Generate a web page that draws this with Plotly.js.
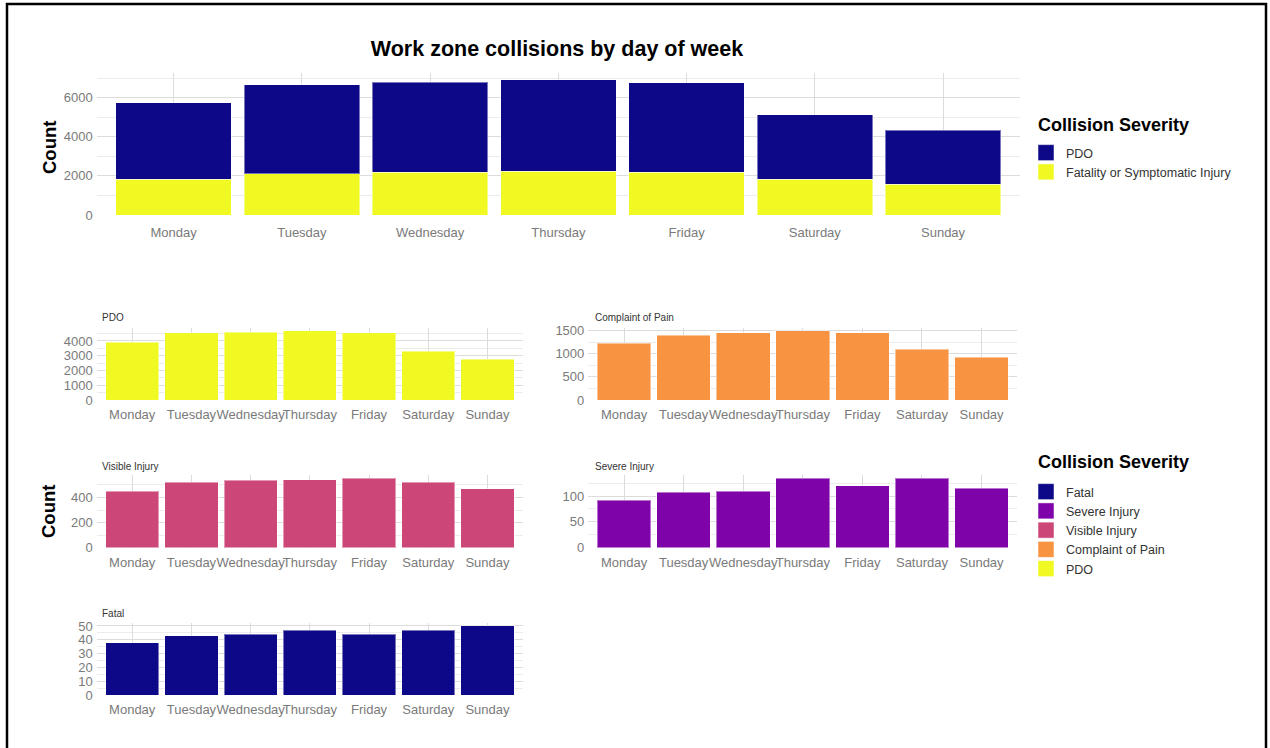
<!DOCTYPE html>
<html>
<head>
<meta charset="utf-8">
<script src="https://cdn.plot.ly/plotly-3.0.1.min.js"></script>
<style>html,body{margin:0;padding:0;background:#fff;}#chart{width:1270px;height:748px;}</style>
</head>
<body>
<div id="chart"></div>
<script>
// ---- data ----
const days = ['Monday','Tuesday','Wednesday','Thursday','Friday','Saturday','Sunday'];
const pdo = [3900, 4560, 4600, 4680, 4560, 3300, 2760];
const injuryTotal = [1830, 2100, 2190, 2230, 2190, 1830, 1560]; // Fatality or Symptomatic Injury
const complaint = [1225, 1400, 1450, 1490, 1450, 1090, 925];
const visible = [451, 519, 535, 541, 551, 519, 469];
const severe = [92, 107, 109, 134, 120, 134, 115];
const fatal = [38, 43, 44, 47, 44, 47, 50];

const C = {fatal:'#0D0887', severe:'#7E03A8', visible:'#CC4678', complaint:'#F89441', pdo:'#F0F921'};

// ---- layout helpers (pixel -> paper) ----
const W = 1270, H = 748;
const px = x => x / W;
const py = y => 1 - y / H;

const SANS = '"Liberation Sans", Arial, sans-serif';
const tickFont = {family: SANS, size: 13, color: '#7a7a7a'};
const gridC = '#dcdcdc', minorC = '#ececec';
const barLine = {color: 'rgba(255,255,255,0.45)', width: 1};

function xax(l, r, t, b, anchor, standoff) {
  return {domain: [px(l), px(r)], anchor: anchor, type: 'category', range: [-0.6, 6.6],
    showgrid: true, gridcolor: gridC, gridwidth: 1, showline: false, zeroline: false,
    ticks: '', tickangle: 0, tickfont: tickFont, ticklabelstandoff: standoff, fixedrange: true};
}
function yax(t, b, anchor, max, dtick) {
  return {domain: [py(b), py(t)], anchor: anchor, range: [0, max * 1.05],
    dtick: dtick, tick0: 0, showgrid: true, gridcolor: gridC, gridwidth: 1,
    minor: {dtick: dtick / 2, showgrid: true, gridcolor: minorC, gridwidth: 1},
    zeroline: false, showline: false, ticks: '', tickfont: tickFont, ticklabelstandoff: 3, fixedrange: true};
}
const totals = pdo.map((v, i) => v + injuryTotal[i]);
const maxOf = a => Math.max.apply(null, a);

const traces = [
  {type:'bar', x: days, y: injuryTotal, name:'Fatality or Symptomatic Injury', marker:{color:C.pdo, line:barLine}, width:0.9, xaxis:'x', yaxis:'y', showlegend:false},
  {type:'bar', x: days, y: pdo, name:'PDO', marker:{color:C.fatal, line:barLine}, width:0.9, xaxis:'x', yaxis:'y', showlegend:false},
  {type:'bar', x: days, y: pdo, name:'PDO', marker:{color:C.pdo, line:barLine}, width:0.9, xaxis:'x2', yaxis:'y2', showlegend:false},
  {type:'bar', x: days, y: complaint, name:'Complaint of Pain', marker:{color:C.complaint, line:barLine}, width:0.9, xaxis:'x3', yaxis:'y3', showlegend:false},
  {type:'bar', x: days, y: visible, name:'Visible Injury', marker:{color:C.visible, line:barLine}, width:0.9, xaxis:'x4', yaxis:'y4', showlegend:false},
  {type:'bar', x: days, y: severe, name:'Severe Injury', marker:{color:C.severe, line:barLine}, width:0.9, xaxis:'x5', yaxis:'y5', showlegend:false},
  {type:'bar', x: days, y: fatal, name:'Fatal', marker:{color:C.fatal, line:barLine}, width:0.9, xaxis:'x6', yaxis:'y6', showlegend:false}
];

// legend entries (no data, legend swatches only)
function legendEntry(name, color, legend) {
  return {type:'scatter', mode:'markers', x:[null], y:[null], name:name, legend:legend, showlegend:true,
    xaxis:'x', yaxis:'y', hoverinfo:'skip',
    marker:{symbol:'square', size:16, color:color, line:{color:'rgba(255,255,255,0.5)', width:1}}};
}
traces.push(legendEntry('PDO', C.fatal, 'legend'));
traces.push(legendEntry('Fatality or Symptomatic Injury', C.pdo, 'legend'));
traces.push(legendEntry('Fatal', C.fatal, 'legend2'));
traces.push(legendEntry('Severe Injury', C.severe, 'legend2'));
traces.push(legendEntry('Visible Injury', C.visible, 'legend2'));
traces.push(legendEntry('Complaint of Pain', C.complaint, 'legend2'));
traces.push(legendEntry('PDO', C.pdo, 'legend2'));

const legendBase = {xanchor:'left', yanchor:'top', bgcolor:'rgba(0,0,0,0)', borderwidth:0, traceorder:'normal',
  font:{family: SANS, size:12.5, color:'#333'}, tracegroupgap:0, itemclick:false, itemdoubleclick:false};

const L = {l:96.7, r:523}, R = {l:588.3, r:1017.3};
const row1 = {t:327.5, b:400}, row2 = {t:475, b:547.7}, row3 = {t:622.5, b:695};

const subTitle = (text, x, y) => ({text: text, x: px(x), y: py(y), xref:'paper', yref:'paper',
  xanchor:'left', yanchor:'middle', showarrow:false, font:{family: SANS, size:10, color:'#333'}});
const countLabel = y => ({text:'<b>Count</b>', x: px(49), y: py(y), xref:'paper', yref:'paper',
  xanchor:'center', yanchor:'middle', textangle:-90, showarrow:false, font:{family: SANS, size:18.5, color:'#000'}});
const legendTitle = y => ({text:'<b>Collision Severity</b>', x: px(1036), y: py(y), xref:'paper', yref:'paper',
  xanchor:'left', yanchor:'middle', showarrow:false, font:{family: SANS, size:18, color:'#000'}});

const layout = {
  width: W, height: H, margin:{l:0, r:0, t:0, b:0},
  paper_bgcolor:'#fff', plot_bgcolor:'rgba(0,0,0,0)',
  barmode:'stack', bargap:0.1,
  title:{text:'<b>Work zone collisions by day of week</b>', x: px(557), xanchor:'center', y: py(48), yanchor:'middle',
    font:{family: SANS, size:21.5, color:'#000'}},
  xaxis: xax(96.7, 1020, 73, 215, 'y', 8),
  yaxis: yax(73, 215, 'x', maxOf(totals), 2000),
  xaxis2: xax(L.l, L.r, row1.t, row1.b, 'y2', 5),
  yaxis2: yax(row1.t, row1.b, 'x2', maxOf(pdo), 1000),
  xaxis3: xax(R.l, R.r, row1.t, row1.b, 'y3', 5),
  yaxis3: yax(row1.t, row1.b, 'x3', maxOf(complaint), 500),
  xaxis4: xax(L.l, L.r, row2.t, row2.b, 'y4', 5),
  yaxis4: yax(row2.t, row2.b, 'x4', maxOf(visible), 200),
  xaxis5: xax(R.l, R.r, row2.t, row2.b, 'y5', 5),
  yaxis5: yax(row2.t, row2.b, 'x5', maxOf(severe), 50),
  xaxis6: xax(L.l, L.r, row3.t, row3.b, 'y6', 5),
  yaxis6: yax(row3.t, row3.b, 'x6', maxOf(fatal), 10),
  legend: Object.assign({}, legendBase, {x: px(1026), y: py(138)}),
  legend2: Object.assign({}, legendBase, {x: px(1026), y: py(477)}),
  annotations: [
    countLabel(148), countLabel(512),
    legendTitle(125), legendTitle(462),
    subTitle('PDO', 100, 317),
    subTitle('Complaint of Pain', 593, 317),
    subTitle('Visible Injury', 100, 466),
    subTitle('Severe Injury', 593, 466),
    subTitle('Fatal', 100, 613)
  ],
  shapes: [
    {type:'rect', xref:'paper', yref:'paper', x0: px(7), x1: px(1266), y0: py(752), y1: py(4),
     line:{color:'#000', width:2.5}, fillcolor:'rgba(0,0,0,0)'}
  ]
};

Plotly.newPlot('chart', traces, layout, {displayModeBar:false, responsive:false});
</script>
</body>
</html>
